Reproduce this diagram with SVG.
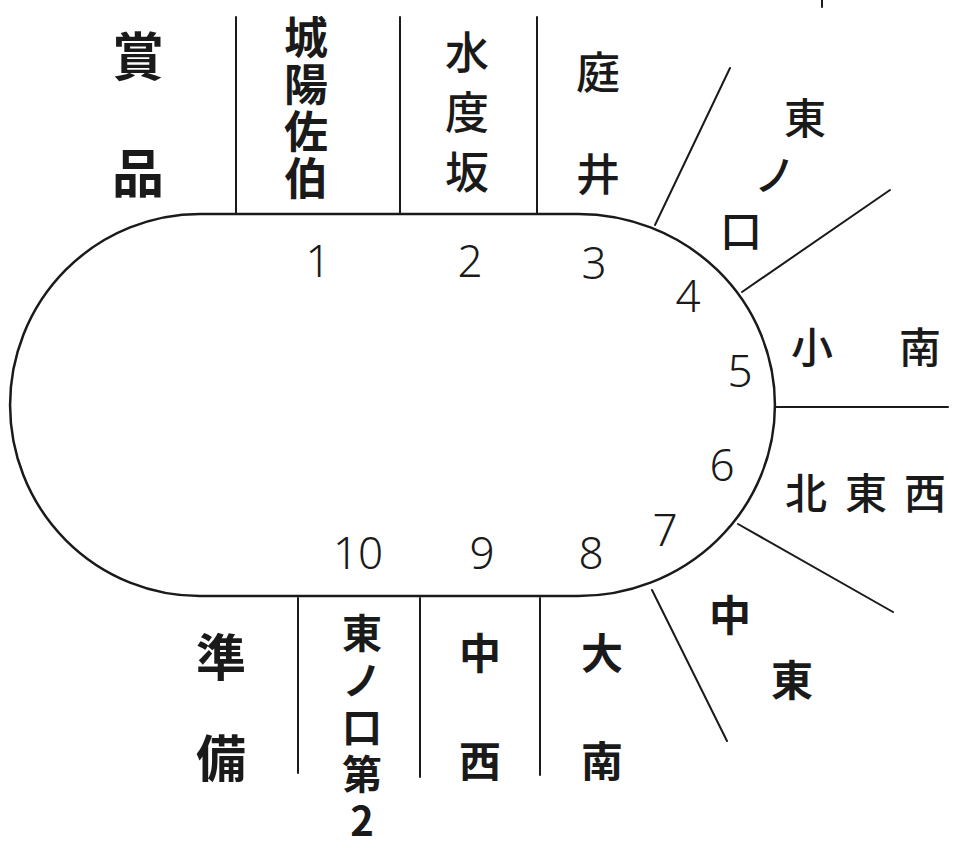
<svg xmlns="http://www.w3.org/2000/svg" width="955" height="850" viewBox="0 0 955 850">
<style>
.ln{stroke:#1a1a1a;stroke-width:2;fill:none;stroke-linecap:round}
.trk{stroke:#1a1a1a;stroke-width:2.5;fill:#fff}
.j{font-family:"Noto Sans CJK JP","Noto Sans CJK SC",sans-serif;fill:#1a1a1a;text-anchor:middle;dominant-baseline:central}
.v{font-family:"Noto Sans CJK JP","Noto Sans CJK SC",sans-serif;fill:#1a1a1a;writing-mode:vertical-rl;text-orientation:upright;font-weight:700}
.b{font-weight:700}
.m{font-weight:500}
.n{font-family:"Noto Sans","Open Sans",sans-serif;font-weight:300;font-size:44px;fill:#1a1a1a;text-anchor:middle;dominant-baseline:central}
</style>
<rect width="955" height="850" fill="#fff"/>
<g id="track">
<path class="trk" d="M200,214 L578,214 A197 191 0 0 1 578,596 L200,596 A190 191 0 0 1 200,214 Z"/>
</g>
<g id="connectors">
<line class="ln" x1="236" y1="17" x2="236" y2="214"/>
<line class="ln" x1="400" y1="17" x2="400" y2="214"/>
<line class="ln" x1="537" y1="17" x2="537" y2="214"/>
<line class="ln" x1="822" y1="0" x2="822" y2="7"/>
<line class="ln" x1="655" y1="225" x2="730" y2="68"/>
<line class="ln" x1="742" y1="292" x2="890" y2="190"/>
<line class="ln" x1="775" y1="407" x2="948" y2="407"/>
<line class="ln" x1="738" y1="524" x2="893" y2="612"/>
<line class="ln" x1="652" y1="590" x2="727" y2="741"/>
<line class="ln" x1="298" y1="598" x2="298" y2="773"/>
<line class="ln" x1="420" y1="598" x2="420" y2="777"/>
<line class="ln" x1="540" y1="598" x2="540" y2="775"/>
</g>
<g id="numbers">
<text class="n" x="318" y="260">1</text>
<text class="n" x="470" y="260">2</text>
<text class="n" x="594" y="262">3</text>
<text class="n" x="688" y="295">4</text>
<text class="n" x="740" y="370">5</text>
<text class="n" x="722" y="464">6</text>
<text class="n" x="665" y="529">7</text>
<text class="n" x="591" y="552">8</text>
<text class="n" x="482" y="552">9</text>
<text class="n" x="358" y="552">10</text>
</g>
<g id="shohin" class="j b" font-size="52">
<text x="138" y="53">賞</text>
<text x="138" y="170">品</text>
</g>
<g id="joyo-saeki">
<text class="v" x="306" y="15" font-size="44" letter-spacing="3">城陽佐伯</text>
</g>
<g id="mizudosaka" class="j m" font-size="44">
<text x="467" y="50">水</text>
<text x="467" y="110">度</text>
<text x="467" y="170">坂</text>
</g>
<g id="niwai" class="j m" font-size="44">
<text x="598" y="70">庭</text>
<text x="598" y="172">井</text>
</g>
<g id="higashinokuchi" class="j m" font-size="42">
<text x="805" y="115">東</text>
<text x="775" y="172">ノ</text>
<text x="741" y="228">口</text>
</g>
<g id="ominami" class="j m" font-size="42">
<text x="812" y="344">小</text>
<text x="920" y="344">南</text>
</g>
<g id="kitatozai" class="j m" font-size="42">
<text x="806" y="490">北</text>
<text x="866" y="490">東</text>
<text x="925" y="490">西</text>
</g>
<g id="chuto" class="j b" font-size="42">
<text x="730" y="612">中</text>
<text x="792" y="677">東</text>
</g>
<g id="junbi" class="j b" font-size="50">
<text x="221" y="654">準</text>
<text x="221" y="755">備</text>
</g>
<g id="higashinokuchi2">
<text class="v" x="362" y="613" font-size="40" letter-spacing="7">東ノ口第2</text>
</g>
<g id="chusei" class="j b" font-size="42">
<text x="480" y="650">中</text>
<text x="480" y="758">西</text>
</g>
<g id="ominami2" class="j b" font-size="42">
<text x="602" y="650">大</text>
<text x="602" y="758">南</text>
</g>
</svg>
